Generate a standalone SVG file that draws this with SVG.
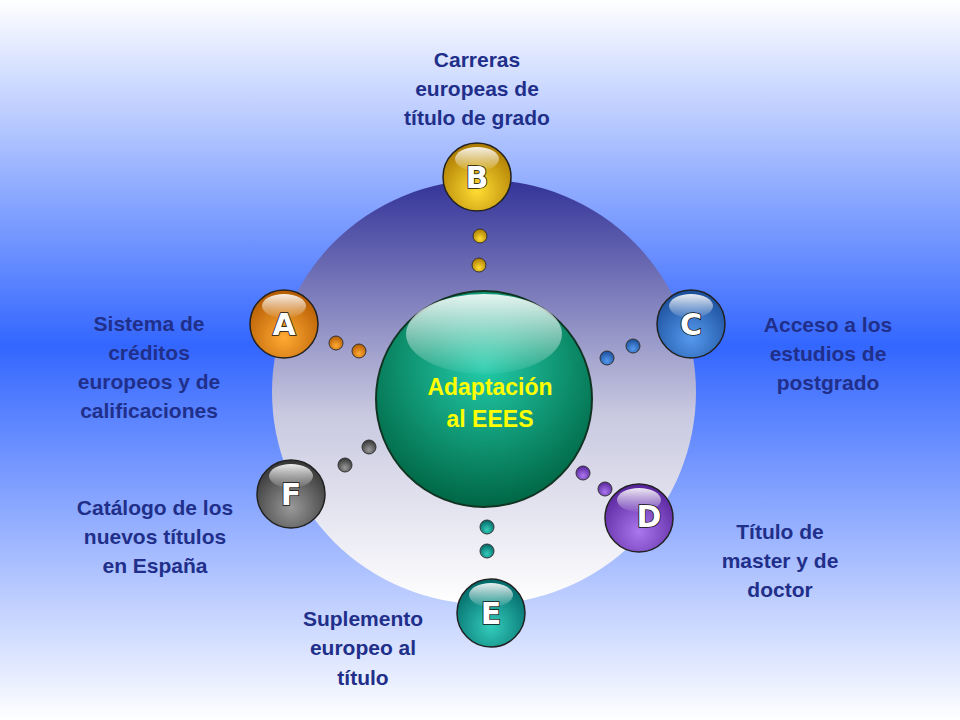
<svg xmlns="http://www.w3.org/2000/svg" width="960" height="720" viewBox="0 0 960 720">
<defs>
<linearGradient id="bg" x1="0" y1="0" x2="0" y2="1">
<stop offset="0" stop-color="#ffffff"/><stop offset="0.48" stop-color="#3366ff"/><stop offset="1" stop-color="#ffffff"/>
</linearGradient>
<linearGradient id="big" x1="0" y1="0" x2="0" y2="1">
<stop offset="0" stop-color="#333399"/><stop offset="0.55" stop-color="#c8c8e0"/><stop offset="1" stop-color="#ffffff"/>
</linearGradient>
<radialGradient id="cen" cx="0.5" cy="0.35" r="0.65">
<stop offset="0" stop-color="#22ccaa"/><stop offset="1" stop-color="#006644"/>
</radialGradient>
<linearGradient id="hl" x1="0" y1="0" x2="0" y2="1">
<stop offset="0" stop-color="#ffffff" stop-opacity="0.9"/><stop offset="1" stop-color="#ffffff" stop-opacity="0.05"/>
</linearGradient>
<radialGradient id="gB" cx="0.5" cy="0.7" r="0.7"><stop offset="0" stop-color="#ffdd33"/><stop offset="1" stop-color="#aa7700"/></radialGradient>
<radialGradient id="gA" cx="0.5" cy="0.7" r="0.7"><stop offset="0" stop-color="#ffaa33"/><stop offset="1" stop-color="#b35900"/></radialGradient>
<radialGradient id="gC" cx="0.5" cy="0.7" r="0.7"><stop offset="0" stop-color="#5599ee"/><stop offset="1" stop-color="#1a4d99"/></radialGradient>
<radialGradient id="gD" cx="0.5" cy="0.7" r="0.7"><stop offset="0" stop-color="#aa77ee"/><stop offset="1" stop-color="#552299"/></radialGradient>
<radialGradient id="gE" cx="0.5" cy="0.7" r="0.7"><stop offset="0" stop-color="#33ccbb"/><stop offset="1" stop-color="#006666"/></radialGradient>
<radialGradient id="gF" cx="0.5" cy="0.7" r="0.7"><stop offset="0" stop-color="#999999"/><stop offset="1" stop-color="#333333"/></radialGradient>
</defs>
<style>
.lbl{font-family:"Liberation Sans",Arial,sans-serif;font-weight:bold;font-size:21px;fill:#1f2f8a;text-anchor:middle}
.let{font-family:"DejaVu Sans","Liberation Sans",sans-serif;font-weight:bold;font-size:30px;fill:#ffffff;text-anchor:middle;stroke:#111;stroke-width:1.5;paint-order:stroke}
.ball{stroke:#222;stroke-width:1.5}
.dot{stroke:#333;stroke-width:1}
.sh{fill:url(#hl)}
</style>
<rect width="960" height="720" fill="url(#bg)"/>
<circle cx="484" cy="392" r="212" fill="url(#big)"/>
<g id="connectors">
<circle class="dot" cx="480" cy="236" r="7" fill="url(#gB)"/><circle class="dot" cx="479" cy="265" r="7" fill="url(#gB)"/>
<circle class="dot" cx="336" cy="343" r="7" fill="url(#gA)"/><circle class="dot" cx="359" cy="351" r="7" fill="url(#gA)"/>
<circle class="dot" cx="633" cy="346" r="7" fill="url(#gC)"/><circle class="dot" cx="607" cy="358" r="7" fill="url(#gC)"/>
<circle class="dot" cx="583" cy="473" r="7" fill="url(#gD)"/><circle class="dot" cx="605" cy="489" r="7" fill="url(#gD)"/>
<circle class="dot" cx="487" cy="527" r="7" fill="url(#gE)"/><circle class="dot" cx="487" cy="551" r="7" fill="url(#gE)"/>
<circle class="dot" cx="345" cy="465" r="7" fill="url(#gF)"/><circle class="dot" cx="369" cy="447" r="7" fill="url(#gF)"/>
</g>
<g id="center">
<circle cx="484" cy="399" r="108" fill="url(#cen)" stroke="#113322" stroke-width="2"/>
<ellipse cx="484" cy="334" rx="78" ry="40" fill="url(#hl)"/>
<text x="490" y="395" font-family="Liberation Sans,Arial,sans-serif" font-weight="bold" font-size="23" fill="#ffff00" text-anchor="middle">Adaptación</text>
<text x="490" y="427" font-family="Liberation Sans,Arial,sans-serif" font-weight="bold" font-size="23" fill="#ffff00" text-anchor="middle">al EEES</text>
</g>
<g id="B"><circle class="ball" cx="477" cy="177" r="34" fill="url(#gB)"/><ellipse class="sh" cx="477" cy="159" rx="22" ry="12"/><text class="let" x="477" y="188">B</text>
<text class="lbl" x="477" y="67">Carreras</text><text class="lbl" x="477" y="96">europeas de</text><text class="lbl" x="477" y="125">título de grado</text></g>
<g id="A"><circle class="ball" cx="284" cy="324" r="34" fill="url(#gA)"/><ellipse class="sh" cx="284" cy="306" rx="22" ry="12"/><text class="let" x="284" y="335">A</text>
<text class="lbl" x="149" y="331">Sistema de</text><text class="lbl" x="149" y="360">créditos</text><text class="lbl" x="149" y="389">europeos y de</text><text class="lbl" x="149" y="418">calificaciones</text></g>
<g id="C"><circle class="ball" cx="691" cy="324" r="34" fill="url(#gC)"/><ellipse class="sh" cx="691" cy="306" rx="22" ry="12"/><text class="let" x="691" y="335">C</text>
<text class="lbl" x="828" y="332">Acceso a los</text><text class="lbl" x="828" y="361">estudios de</text><text class="lbl" x="828" y="390">postgrado</text></g>
<g id="D"><circle class="ball" cx="639" cy="518" r="34" fill="url(#gD)"/><ellipse class="sh" cx="639" cy="500" rx="22" ry="12"/><text class="let" x="649" y="527">D</text>
<text class="lbl" x="780" y="539">Título de</text><text class="lbl" x="780" y="568">master y de</text><text class="lbl" x="780" y="597">doctor</text></g>
<g id="E"><circle class="ball" cx="491" cy="613" r="34" fill="url(#gE)"/><ellipse class="sh" cx="491" cy="595" rx="22" ry="12"/><text class="let" x="491" y="624">E</text>
<text class="lbl" x="363" y="626">Suplemento</text><text class="lbl" x="363" y="655">europeo al</text><text class="lbl" x="363" y="685">título</text></g>
<g id="F"><circle class="ball" cx="291" cy="494" r="34" fill="url(#gF)"/><ellipse class="sh" cx="291" cy="476" rx="22" ry="12"/><text class="let" x="291" y="505">F</text>
<text class="lbl" x="155" y="515">Catálogo de los</text><text class="lbl" x="155" y="544">nuevos títulos</text><text class="lbl" x="155" y="573">en España</text></g>
</svg>
